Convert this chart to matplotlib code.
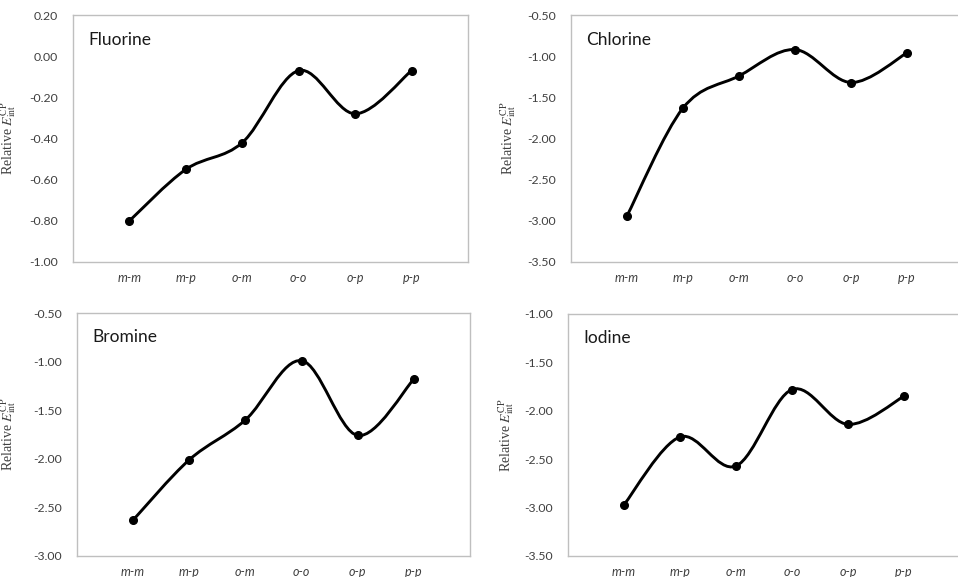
import numpy as np
import matplotlib
matplotlib.use("Agg")
import matplotlib.pyplot as plt
from matplotlib.path import Path
from matplotlib.patches import PathPatch

plt.rcParams['axes.unicode_minus'] = False
plt.rcParams['mathtext.fontset'] = 'stix'

# datos
categorias = ['m-m', 'm-p', 'o-m', 'o-o', 'o-p', 'p-p']
fluor = [-0.80, -0.55, -0.42, -0.07, -0.28, -0.07]
cloro = [-2.94, -1.63, -1.24, -0.92, -1.32, -0.96]
bromo = [-2.63, -2.01, -1.60, -0.99, -1.76, -1.18]
yodo = [-2.97, -2.27, -2.57, -1.78, -2.14, -1.85]

nombres = ['Fluorine', 'Chlorine', 'Bromine', 'Iodine']
series = [fluor, cloro, bromo, yodo]
yticks = [[-1.0, -0.8, -0.6, -0.4, -0.2, 0.0, 0.2],
          [-3.5, -3.0, -2.5, -2.0, -1.5, -1.0, -0.5],
          [-3.0, -2.5, -2.0, -1.5, -1.0, -0.5],
          [-3.5, -3.0, -2.5, -2.0, -1.5, -1.0]]

W, H = 958, 577
cajas = [(73, 15, 395, 247), (571, 15, 392, 247),
         (77, 313, 393, 243), (568, 314, 392, 242)]
xlabel_pos = [18, 518, 18, 516]


def curva_suave(x, y):
    # linea suavizada tipo Excel (Bezier por tramos)
    px = np.concatenate(([x[0]], x, [x[-1]]))
    py = np.concatenate(([y[0]], y, [y[-1]]))
    verts = [(x[0], y[0])]
    codes = [Path.MOVETO]
    for i in range(1, len(px) - 2):
        c1 = (px[i] + (px[i + 1] - px[i - 1]) / 6, py[i] + (py[i + 1] - py[i - 1]) / 6)
        c2 = (px[i + 1] - (px[i + 2] - px[i]) / 6, py[i + 1] - (py[i + 2] - py[i]) / 6)
        verts += [c1, c2, (px[i + 1], py[i + 1])]
        codes += [Path.CURVE4] * 3
    return Path(verts, codes)


fig = plt.figure(figsize=(W / 100, H / 100), dpi=100)
for k in range(4):
    l, t, w, h = cajas[k]
    ax = fig.add_axes([l / W, 1 - (t + h) / H, w / W, h / H])
    x = np.arange(1, len(categorias) + 1)
    y = np.array(series[k])
    ax.add_patch(PathPatch(curva_suave(x, y), fill=False, lw=2.1, color='black'))
    ax.plot(x, y, 'o', color='black', ms=5.5)
    ax.set_xlim(0, 7)
    yt = yticks[k]
    ax.set_ylim(yt[0], yt[-1])
    ax.set_yticks(yt)
    ax.set_yticklabels(['%.2f' % v for v in yt], fontfamily='Lato', fontsize=8.8, color='#404040')
    ax.set_xticks(x)
    ax.set_xticklabels(categorias, fontfamily='Lato', fontstyle='italic', fontsize=9, color='#404040')
    ax.tick_params(length=0, axis='y', pad=11)
    ax.tick_params(length=0, axis='x', pad=7)
    for s in ax.spines.values():
        s.set_color('#bfbfbf')
        s.set_linewidth(1)
    ax.text(0.038, 0.90, nombres[k], transform=ax.transAxes, fontfamily='Lato',
            fontsize=12.5, va='center', ha='left', color='#1a1a1a')
    ax.set_ylabel(r'Relative $E_{\mathrm{int}}^{\mathrm{CP}}$', fontfamily='Liberation Serif',
                  fontsize=10, color='#404040')
    ax.yaxis.set_label_coords((xlabel_pos[k] - l) / w, 0.5)

fig.savefig('out.png', dpi=100)
